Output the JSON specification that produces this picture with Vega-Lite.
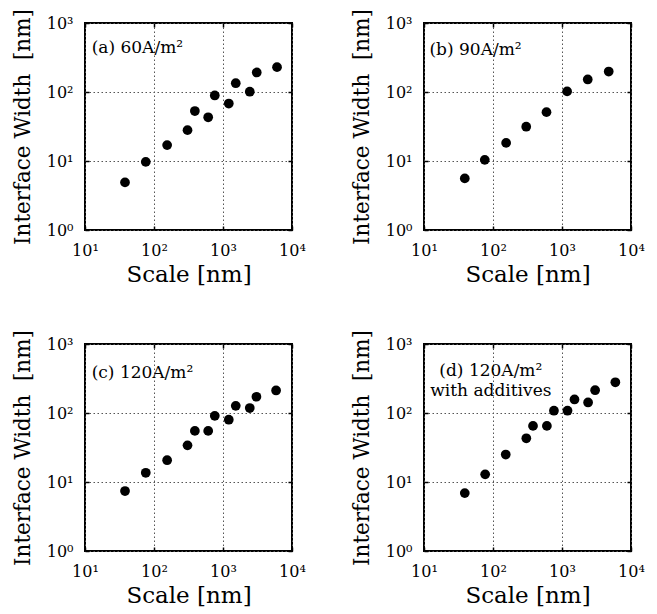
{
  "$schema": "https://vega.github.io/schema/vega-lite/v6.json",
  "background": "white",
  "padding": {"left": 11, "top": 7, "right": 5, "bottom": 5},
  "columns": 2,
  "spacing": {"row": 114, "column": 132},
  "bounds": "flush",
  "concat": [
    {
      "width": 207, "height": 207,
      "data": {"values": [
        {"scale": 38, "width": 4.9}, {"scale": 76, "width": 9.7}, {"scale": 155, "width": 17},
        {"scale": 306, "width": 28}, {"scale": 391, "width": 53}, {"scale": 610, "width": 43},
        {"scale": 760, "width": 89}, {"scale": 1213, "width": 68}, {"scale": 1531, "width": 134},
        {"scale": 2444, "width": 101}, {"scale": 3083, "width": 192}, {"scale": 6067, "width": 229}
      ]},
      "layer": [
        {"mark": {"type": "circle", "size": 95, "color": "black", "opacity": 1},
         "encoding": {
           "x": {"field": "scale", "type": "quantitative", "scale": {"type": "log", "domain": [10, 10000], "nice": false}, "axis": {"title": "Scale [nm]", "titleFontSize": 23, "titlePadding": 5, "values": [10, 100, 1000, 10000], "labelExpr": "'10' + ['⁰','¹','²','³','⁴'][round(log(datum.value)/LN10)]"}},
           "y": {"field": "width", "type": "quantitative", "scale": {"type": "log", "domain": [1, 1000], "nice": false}, "axis": {"title": "Interface Width\u00a0 [nm]", "values": [1, 10, 100, 1000], "labelExpr": "'10' + ['⁰','¹','²','³','⁴'][round(log(datum.value)/LN10)]"}}
         }},
        {"mark": {"type": "circle", "opacity": 0},
         "encoding": {
           "x": {"field": "scale", "type": "quantitative", "axis": {"orient": "top", "labels": false, "grid": false, "title": null, "values": [10, 100, 1000, 10000]}},
           "y": {"field": "width", "type": "quantitative", "axis": {"orient": "right", "labels": false, "grid": false, "title": null, "values": [1, 10, 100, 1000]}}
         }},
        {"data": {"values": [{"label": "(a) 60A/m²"}]},
         "mark": {"type": "text", "align": "left", "baseline": "middle"},
         "encoding": {"x": {"datum": 12.5, "axis": null}, "y": {"datum": 430, "axis": null}, "text": {"field": "label"}}}
      ],
      "resolve": {"axis": {"x": "independent", "y": "independent"}}
    },
    {
      "width": 207, "height": 207,
      "data": {"values": [
        {"scale": 39, "width": 5.6}, {"scale": 76, "width": 10.4}, {"scale": 155, "width": 18.3},
        {"scale": 303, "width": 31.4}, {"scale": 596, "width": 51}, {"scale": 1186, "width": 102},
        {"scale": 2361, "width": 152}, {"scale": 4753, "width": 198}
      ]},
      "layer": [
        {"mark": {"type": "circle", "size": 95, "color": "black", "opacity": 1},
         "encoding": {
           "x": {"field": "scale", "type": "quantitative", "scale": {"type": "log", "domain": [10, 10000], "nice": false}, "axis": {"title": "Scale [nm]", "titleFontSize": 23, "titlePadding": 5, "values": [10, 100, 1000, 10000], "labelExpr": "'10' + ['⁰','¹','²','³','⁴'][round(log(datum.value)/LN10)]"}},
           "y": {"field": "width", "type": "quantitative", "scale": {"type": "log", "domain": [1, 1000], "nice": false}, "axis": {"title": "Interface Width\u00a0 [nm]", "values": [1, 10, 100, 1000], "labelExpr": "'10' + ['⁰','¹','²','³','⁴'][round(log(datum.value)/LN10)]"}}
         }},
        {"mark": {"type": "circle", "opacity": 0},
         "encoding": {
           "x": {"field": "scale", "type": "quantitative", "axis": {"orient": "top", "labels": false, "grid": false, "title": null, "values": [10, 100, 1000, 10000]}},
           "y": {"field": "width", "type": "quantitative", "axis": {"orient": "right", "labels": false, "grid": false, "title": null, "values": [1, 10, 100, 1000]}}
         }},
        {"data": {"values": [{"label": "(b) 90A/m²"}]},
         "mark": {"type": "text", "align": "left", "baseline": "middle"},
         "encoding": {"x": {"datum": 12, "axis": null}, "y": {"datum": 400, "axis": null}, "text": {"field": "label"}}}
      ],
      "resolve": {"axis": {"x": "independent", "y": "independent"}}
    },
    {
      "width": 207, "height": 207,
      "data": {"values": [
        {"scale": 38, "width": 7.4}, {"scale": 76, "width": 13.6}, {"scale": 155, "width": 20.7},
        {"scale": 306, "width": 34}, {"scale": 391, "width": 55}, {"scale": 610, "width": 55},
        {"scale": 760, "width": 91}, {"scale": 1213, "width": 80}, {"scale": 1531, "width": 127},
        {"scale": 2444, "width": 118}, {"scale": 3050, "width": 172}, {"scale": 5880, "width": 212}
      ]},
      "layer": [
        {"mark": {"type": "circle", "size": 95, "color": "black", "opacity": 1},
         "encoding": {
           "x": {"field": "scale", "type": "quantitative", "scale": {"type": "log", "domain": [10, 10000], "nice": false}, "axis": {"title": "Scale [nm]", "titleFontSize": 23, "titlePadding": 5, "values": [10, 100, 1000, 10000], "labelExpr": "'10' + ['⁰','¹','²','³','⁴'][round(log(datum.value)/LN10)]"}},
           "y": {"field": "width", "type": "quantitative", "scale": {"type": "log", "domain": [1, 1000], "nice": false}, "axis": {"title": "Interface Width\u00a0 [nm]", "values": [1, 10, 100, 1000], "labelExpr": "'10' + ['⁰','¹','²','³','⁴'][round(log(datum.value)/LN10)]"}}
         }},
        {"mark": {"type": "circle", "opacity": 0},
         "encoding": {
           "x": {"field": "scale", "type": "quantitative", "axis": {"orient": "top", "labels": false, "grid": false, "title": null, "values": [10, 100, 1000, 10000]}},
           "y": {"field": "width", "type": "quantitative", "axis": {"orient": "right", "labels": false, "grid": false, "title": null, "values": [1, 10, 100, 1000]}}
         }},
        {"data": {"values": [{"label": "(c) 120A/m²"}]},
         "mark": {"type": "text", "align": "left", "baseline": "middle"},
         "encoding": {"x": {"datum": 12.5, "axis": null}, "y": {"datum": 380, "axis": null}, "text": {"field": "label"}}}
      ],
      "resolve": {"axis": {"x": "independent", "y": "independent"}}
    },
    {
      "width": 207, "height": 207,
      "data": {"values": [
        {"scale": 39, "width": 6.9}, {"scale": 77, "width": 12.9}, {"scale": 153, "width": 25},
        {"scale": 304, "width": 43}, {"scale": 380, "width": 65}, {"scale": 604, "width": 65},
        {"scale": 764, "width": 108}, {"scale": 1202, "width": 108}, {"scale": 1517, "width": 157},
        {"scale": 2388, "width": 142}, {"scale": 3020, "width": 214}, {"scale": 5930, "width": 279}
      ]},
      "layer": [
        {"mark": {"type": "circle", "size": 95, "color": "black", "opacity": 1},
         "encoding": {
           "x": {"field": "scale", "type": "quantitative", "scale": {"type": "log", "domain": [10, 10000], "nice": false}, "axis": {"title": "Scale [nm]", "titleFontSize": 23, "titlePadding": 5, "values": [10, 100, 1000, 10000], "labelExpr": "'10' + ['⁰','¹','²','³','⁴'][round(log(datum.value)/LN10)]"}},
           "y": {"field": "width", "type": "quantitative", "scale": {"type": "log", "domain": [1, 1000], "nice": false}, "axis": {"title": "Interface Width\u00a0 [nm]", "values": [1, 10, 100, 1000], "labelExpr": "'10' + ['⁰','¹','²','³','⁴'][round(log(datum.value)/LN10)]"}}
         }},
        {"mark": {"type": "circle", "opacity": 0},
         "encoding": {
           "x": {"field": "scale", "type": "quantitative", "axis": {"orient": "top", "labels": false, "grid": false, "title": null, "values": [10, 100, 1000, 10000]}},
           "y": {"field": "width", "type": "quantitative", "axis": {"orient": "right", "labels": false, "grid": false, "title": null, "values": [1, 10, 100, 1000]}}
         }},
        {"data": {"values": [{"label": "(d) 120A/m²\nwith additives"}]},
         "mark": {"type": "text", "align": "center", "baseline": "middle", "lineHeight": 20, "lineBreak": "\n"},
         "encoding": {"x": {"datum": 93, "axis": null}, "y": {"datum": 406, "axis": null}, "text": {"field": "label"}}}
      ],
      "resolve": {"axis": {"x": "independent", "y": "independent"}}
    }
  ],
  "config": {
    "view": {"stroke": "black", "strokeWidth": 2},
    "axis": {
      "domain": false,
      "labelFont": "DejaVu Serif", "labelFontSize": 16, "labelColor": "black",
      "titleFont": "DejaVu Serif", "titleFontSize": 21.5, "titleFontWeight": "normal", "titleColor": "black",
      "tickColor": "black", "tickSize": -4, "tickWidth": 1.5,
      "gridColor": "#555", "gridDash": [1.5, 2.5], "gridWidth": 1, "gridOpacity": 1,
      "labelFlush": false, "labelOverlap": false, "labelPadding": 16, "titlePadding": 12
    },
    "text": {"font": "DejaVu Serif", "fontSize": 17, "fontWeight": "normal"}
  }
}
